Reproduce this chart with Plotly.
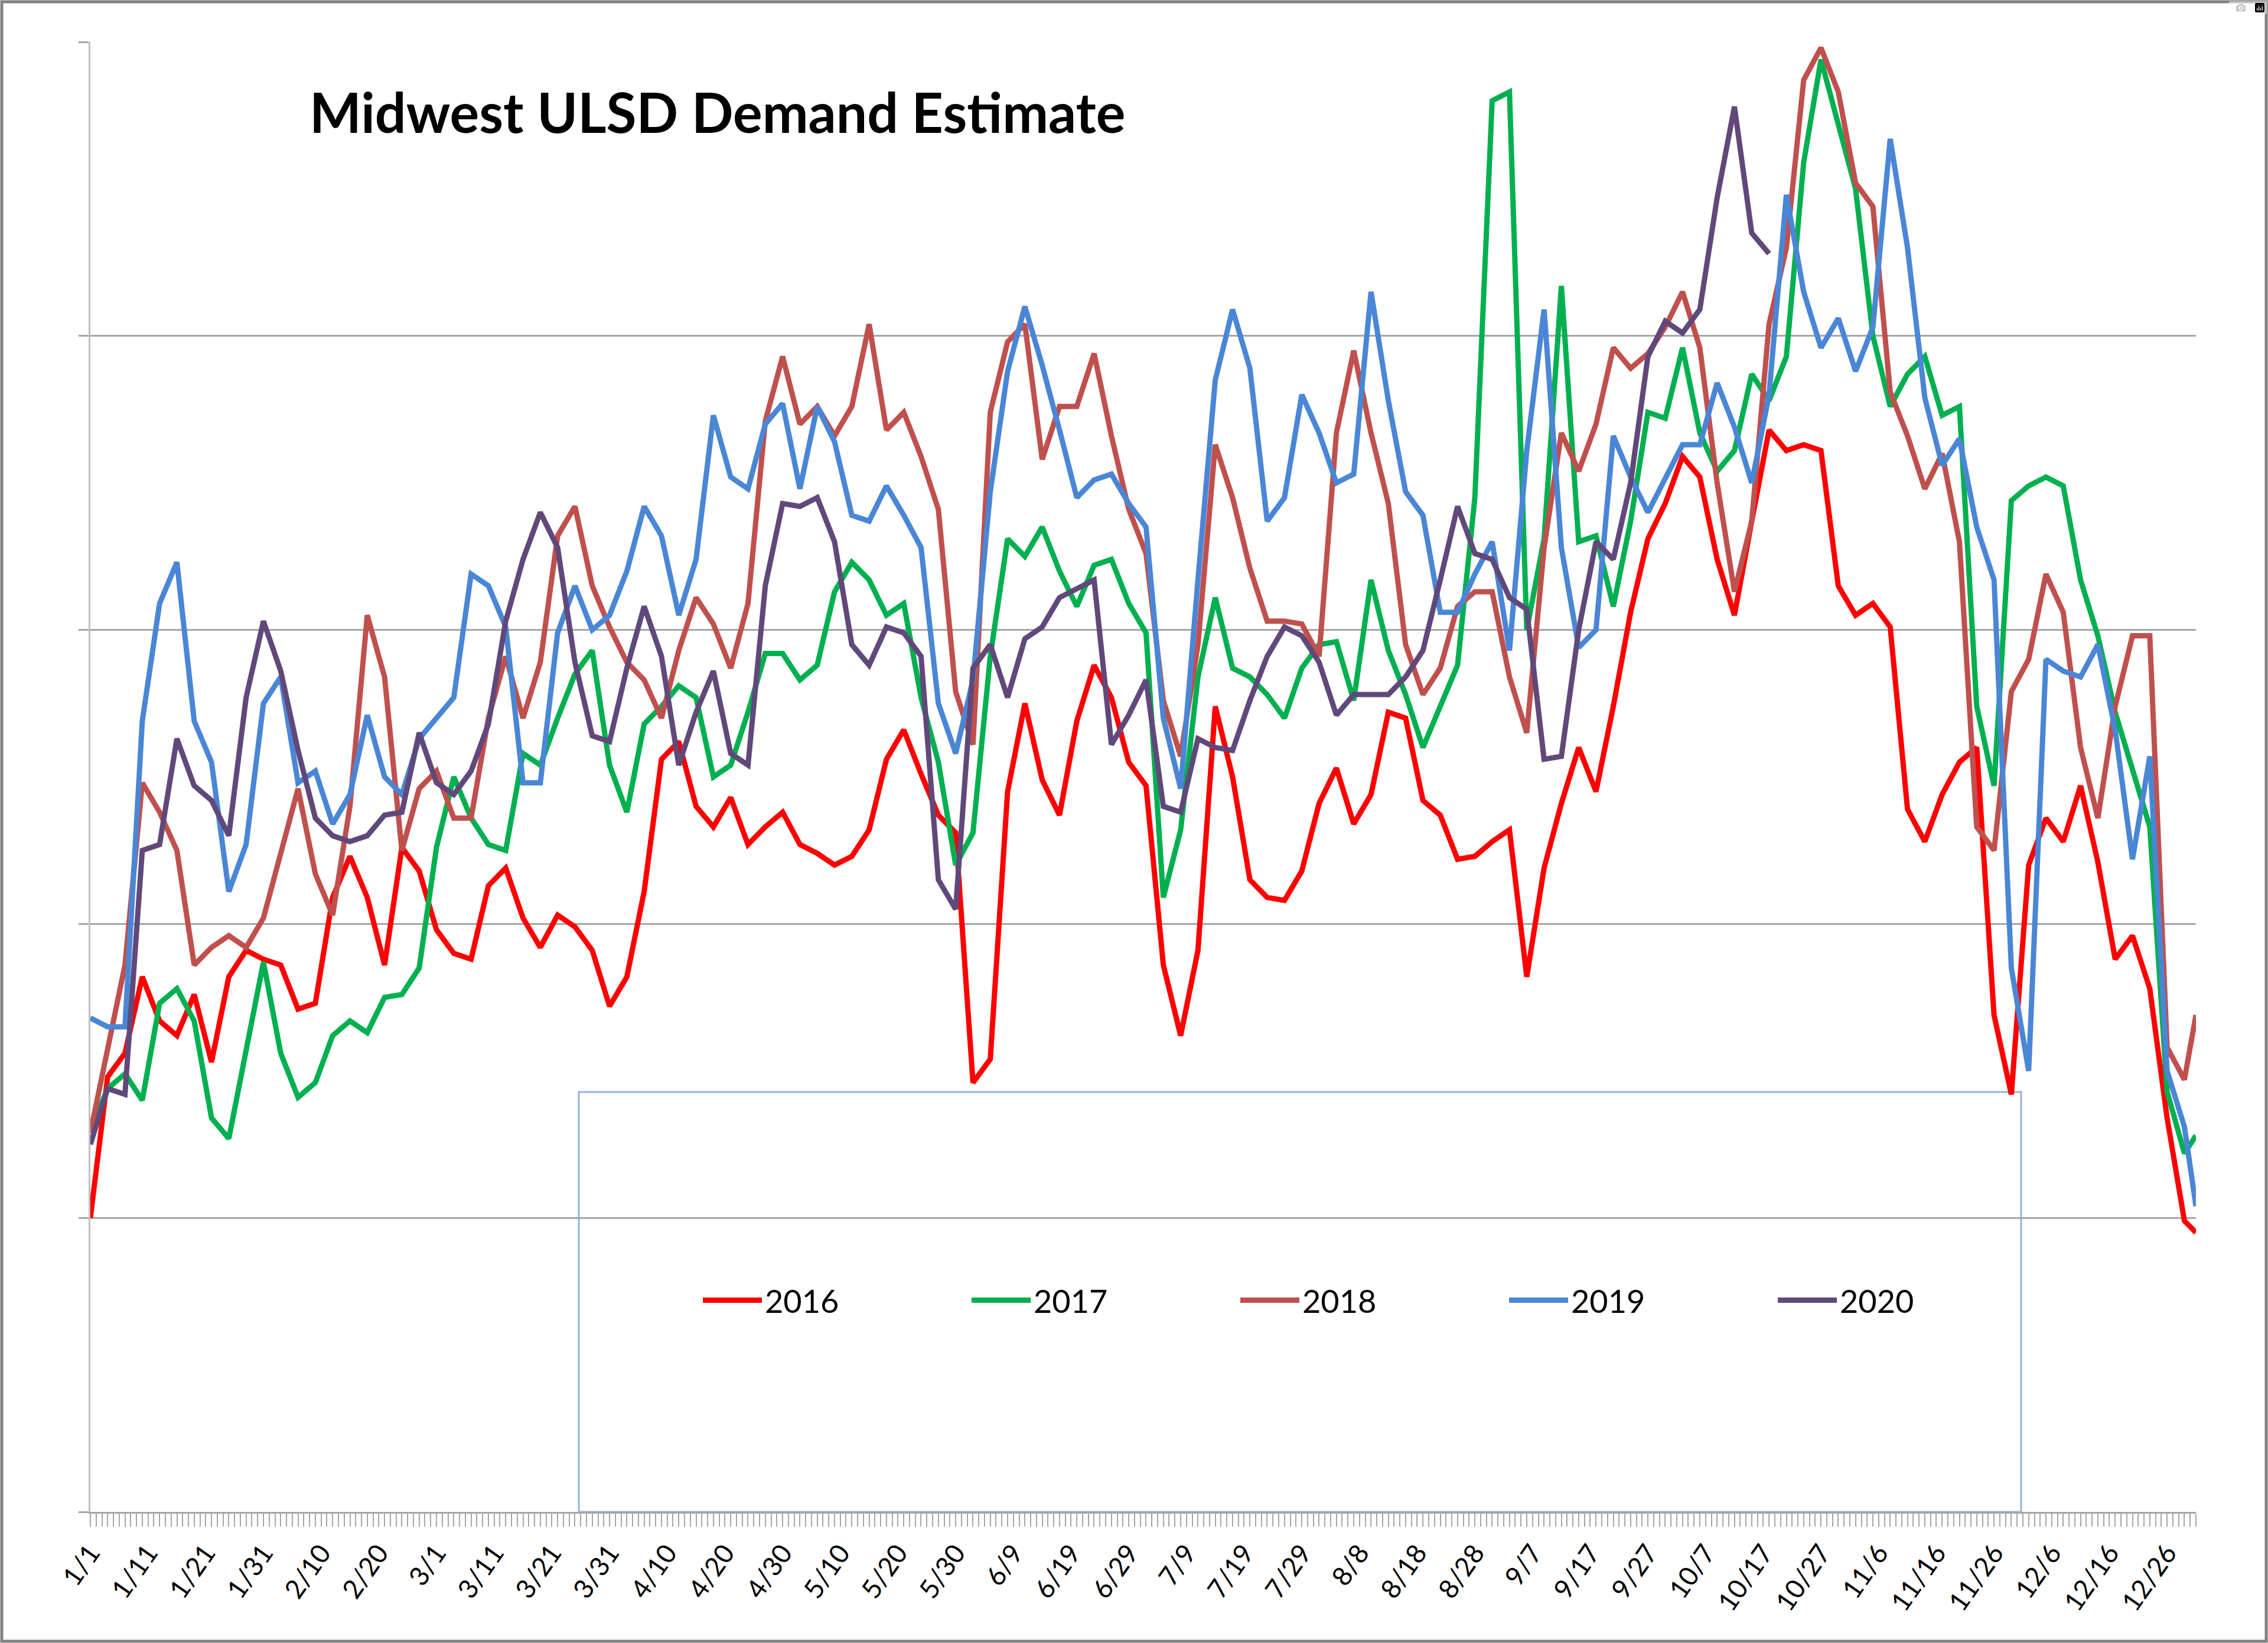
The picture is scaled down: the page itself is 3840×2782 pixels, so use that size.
import plotly.graph_objects as go

# ---------------- data ----------------
# day index counted from Jan 1 (leap-year calendar, 366 days: 0..365)
days = list(range(0, 364, 3)) + [365]
tick_days = list(range(0, 361, 10))
tick_labels = ["1/1", "1/11", "1/21", "1/31", "2/10", "2/20", "3/1", "3/11", "3/21",
               "3/31", "4/10", "4/20", "4/30", "5/10", "5/20", "5/30", "6/9", "6/19",
               "6/29", "7/9", "7/19", "7/29", "8/8", "8/18", "8/28", "9/7", "9/17",
               "9/27", "10/7", "10/17", "10/27", "11/6", "11/16", "11/26", "12/6",
               "12/16", "12/26"]

series_names = ["2016", "2017", "2018", "2019", "2020"]

y2016 = [100, 148, 156, 182, 167, 162, 176, 153, 182, 191,
         188, 186, 171, 173, 209, 223, 209, 186, 226, 218,
         198, 190, 188, 213, 219, 202, 192, 203, 199, 191,
         172, 182, 211, 256, 262, 240, 233, 243, 227, 233,
         238, 227, 224, 220, 223, 232, 256, 266, 251, 237,
         231, 146, 154, 245, 275, 249, 237, 269, 288, 277,
         255, 247, 186, 162, 191, 274, 250, 215, 209, 208,
         218, 241, 253, 234, 244, 272, 270, 242, 237, 222,
         223, 228, 232, 182, 219, 241, 260, 245, 274, 306,
         331, 343, 359, 352, 324, 305, 337, 368, 361, 363,
         361, 315, 305, 309, 301, 239, 228, 244, 255, 260,
         169, 142, 220, 236, 228, 247, 221, 188, 196, 178,
         134, 99, 95]

y2017 = [130, 144, 149, 140, 173, 178, 167, 134, 127, 156,
         187, 156, 141, 146, 162, 167, 163, 175, 176, 185,
         226, 250, 236, 227, 225, 258, 254, 270, 285, 293,
         254, 238, 268, 274, 281, 277, 250, 254, 272, 292,
         292, 283, 288, 313, 323, 317, 305, 309, 277, 255,
         220, 231, 291, 331, 325, 335, 320, 308, 322, 324,
         309, 299, 209, 232, 284, 311, 287, 284, 278, 270,
         287, 295, 296, 276, 317, 293, 278, 260, 274, 288,
         345, 480, 483, 300, 331, 417, 330, 332, 308, 337,
         374, 372, 396, 367, 354, 361, 387, 378, 393, 459,
         494, 472, 450, 400, 376, 387, 393, 373, 376, 274,
         247, 344, 349, 352, 349, 317, 298, 272, 252, 233,
         143, 122, 128]

y2018 = [129, 157, 186, 248, 238, 225, 186, 192, 196, 192,
         202, 224, 246, 217, 203, 240, 305, 284, 225, 246,
         252, 236, 236, 270, 291, 270, 289, 332, 342, 315,
         301, 289, 283, 270, 293, 311, 302, 287, 309, 371,
         393, 370, 376, 366, 376, 404, 368, 374, 359, 341,
         279, 261, 374, 398, 404, 358, 376, 376, 394, 366,
         341, 326, 276, 257, 295, 363, 345, 321, 303, 303,
         302, 291, 367, 395, 367, 343, 295, 278, 287, 308,
         313, 313, 284, 265, 328, 367, 354, 370, 396, 389,
         394, 403, 415, 396, 350, 313, 337, 404, 430, 487,
         498, 483, 452, 444, 381, 366, 348, 360, 330, 233,
         225, 279, 290, 319, 306, 260, 236, 274, 298, 298,
         158, 147, 169]

y2019 = [168, 165, 165, 269, 309, 323, 269, 255, 211, 227,
         275, 284, 248, 252, 234, 244, 271, 250, 244, 263,
         270, 277, 319, 315, 301, 248, 248, 299, 315, 300,
         305, 320, 342, 332, 305, 324, 373, 352, 348, 370,
         377, 348, 376, 364, 339, 337, 349, 339, 328, 275,
         258, 283, 347, 388, 410, 390, 368, 345, 351, 353,
         343, 335, 270, 246, 317, 385, 409, 389, 337, 345,
         380, 367, 350, 353, 415, 378, 347, 339, 306, 306,
         319, 330, 293, 361, 409, 328, 294, 300, 366, 352,
         340, 352, 363, 363, 384, 369, 350, 380, 448, 415,
         396, 406, 388, 403, 467, 430, 379, 356, 365, 335,
         317, 185, 150, 290, 286, 284, 295, 266, 222, 257,
         150, 131, 104]

y2020 = [125, 144, 142, 225, 227, 263, 247, 242, 230, 277,
         303, 286, 259, 236, 230, 228, 230, 237, 238, 265,
         248, 244, 252, 268, 303, 324, 340, 328, 289, 264,
         262, 287, 308, 291, 254, 272, 286, 258, 254, 315,
         343, 342, 345, 330, 295, 288, 301, 299, 291, 215,
         205, 287, 295, 277, 297, 301, 311, 314, 317, 261,
         271, 283, 240, 238, 263, 260, 259, 276, 291, 301,
         298, 289, 271, 278, 278, 278, 284, 293, 317, 342,
         326, 324, 311, 307, 256, 257, 300, 330, 324, 350,
         393, 405, 401, 409, 447, 478, 435, 428]

series_values = [y2016, y2017, y2018, y2019, y2020]
series_colors = ["#FF0000", "#00B050", "#C0504D", "#4A86D6", "#60497A"]

# ---------------- figure ----------------
W, H = 3840, 2782
ML, MR, MT, MB = 153, 122, 71, 222
PW, PH = W - ML - MR, H - MT - MB

fig = go.Figure()
for name, vals, col in zip(series_names, series_values, series_colors):
    fig.add_trace(go.Scatter(
        x=days[:len(vals)], y=vals, mode="lines", name=name,
        line=dict(color=col, width=9),
    ))

grid_col = "#A6A6A6"
fig.update_layout(
    width=W, height=H,
    margin=dict(l=ML, r=MR, t=MT, b=MB, pad=0),
    paper_bgcolor="white", plot_bgcolor="white",
    font=dict(family="Lato", color="#000000"),
    showlegend=True,
    legend=dict(
        orientation="h", x=(1185 - ML) / PW, y=(2560 - 2202) / PH,
        xanchor="left", yanchor="middle",
        font=dict(family="Lato", size=54, color="#000000"),
        bgcolor="rgba(0,0,0,0)", borderwidth=0,
        itemwidth=100, entrywidth=340, entrywidthmode="pixels",
    ),
    xaxis=dict(
        range=[0, 365], tickmode="array", tickvals=tick_days, ticktext=tick_labels,
        tickangle=-55, tickfont=dict(family="Lato", size=45, color="#000000"),
        ticks="outside", ticklen=22, tickwidth=2, tickcolor=grid_col,
        minor=dict(dtick=1, tick0=0, ticks="outside", ticklen=22, tickwidth=2,
                   tickcolor=grid_col, showgrid=False),
        showline=True, linecolor=grid_col, linewidth=3,
        showgrid=False, zeroline=False, fixedrange=True,
    ),
    yaxis=dict(
        range=[0, 500], dtick=100, tick0=0,
        showgrid=True, gridcolor=grid_col, gridwidth=3,
        showline=True, linecolor="#BFBFBF", linewidth=3,
        ticks="outside", ticklen=17, tickwidth=3, tickcolor=grid_col,
        showticklabels=False, zeroline=False, fixedrange=True,
    ),
)

# chart title inside plot area
fig.add_annotation(
    text="Midwest ULSD Demand Estimate", xref="paper", yref="paper",
    x=(522 - ML) / PW, y=(2560 - 189) / PH, xanchor="left", yanchor="middle",
    showarrow=False, font=dict(family="Lato", size=93, color="#000000", weight="bold"),
)

# legend frame
fig.add_shape(type="rect", xref="paper", yref="paper", layer="between",
              x0=(980 - ML) / PW, x1=(3422 - ML) / PW, y0=0, y1=(2560 - 1849) / PH,
              line=dict(color="#95B3D7", width=3), fillcolor="rgba(0,0,0,0)")

# outer chart border
fig.add_shape(type="rect", xref="paper", yref="paper", layer="above",
              x0=(3 - ML) / PW, x1=(W - 3 - ML) / PW,
              y0=(2560 - (H - 3)) / PH, y1=(2560 - 3) / PH,
              line=dict(color="#808080", width=5), fillcolor="rgba(0,0,0,0)")

fig.write_html("out.html", post_script="document.body.style.margin='0';")
